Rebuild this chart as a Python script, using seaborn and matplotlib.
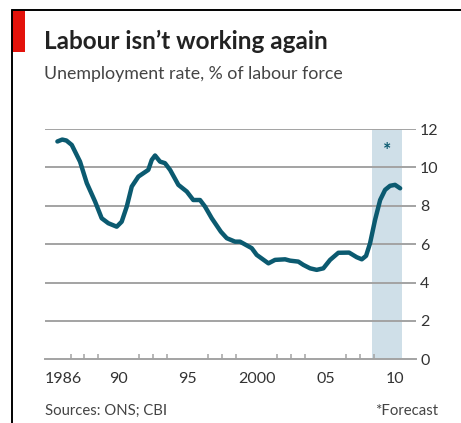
import matplotlib
matplotlib.use("Agg")
import matplotlib.pyplot as plt
import seaborn as sns
import pandas as pd
from matplotlib.lines import Line2D
from matplotlib.patches import Rectangle

# ---- data ----
years = [1986.05, 1986.4, 1986.7, 1987.09, 1987.69, 1988.18, 1988.78, 1989.26, 1989.74,
         1990.35, 1990.71, 1991.08, 1991.44, 1991.92, 1992.64, 1992.89, 1993.13, 1993.49,
         1993.85, 1994.22, 1994.82, 1995.43, 1995.9, 1996.39, 1996.75, 1997.24, 1997.9,
         1998.33, 1998.93, 1999.29, 2000.14, 2000.5, 2001.35, 2001.83, 2002.56, 2002.92,
         2003.52, 2003.88, 2004.37, 2004.85, 2005.33, 2005.82, 2006.42, 2007.2, 2007.75,
         2008.12, 2008.43, 2008.72, 2009.08, 2009.45, 2009.81, 2010.17, 2010.53, 2010.9]
unemployment = [11.35, 11.45, 11.4, 11.17, 10.3, 9.18, 8.22, 7.35, 7.09,
                6.91, 7.17, 7.96, 9.0, 9.52, 9.87, 10.39, 10.62, 10.3,
                10.22, 9.87, 9.09, 8.74, 8.3, 8.3, 7.96, 7.35, 6.65,
                6.31, 6.13, 6.13, 5.79, 5.44, 5.0, 5.18, 5.21, 5.14,
                5.09, 4.92, 4.74, 4.66, 4.74, 5.18, 5.55, 5.56, 5.32,
                5.21, 5.39, 6.05, 7.26, 8.3, 8.83, 9.04, 9.09, 8.91]
forecast_span = (2008.85, 2011.0)
year_labels = ["1986", "90", "95", "2000", "05", "10"]
year_label_pos = [1986.5, 1990.5, 1995.5, 2000.5, 2005.5, 2010.5]
tall_ticks = [1986, 1990, 1991, 1995, 1996, 2000, 2001, 2005, 2006, 2010, 2011]
all_ticks = list(range(1986, 2012))
y_ticks = [0, 2, 4, 6, 8, 10, 12]

df = pd.DataFrame({"year": years, "rate": unemployment})

W, H = 461, 423
sns.set_theme(style="white")
plt.rcParams["font.family"] = ["Lato", "DejaVu Sans"]

fig = plt.figure(figsize=(W / 100, H / 100), dpi=100)
fig.patch.set_facecolor("white")

ax = fig.add_axes([45 / W, 1 - 359.3 / H, (416 - 45) / W, (359.3 - 129) / H])
ax.set_facecolor("white")

teal = "#0b5a70"
grid_c = "#a3a3a3"

ax.axvspan(*forecast_span, color="#cfdfe8", zorder=0, lw=0)
for yv in y_ticks[1:]:
    ax.axhline(yv, color=grid_c, lw=1.4, zorder=1)

sns.lineplot(data=df, x="year", y="rate", ax=ax, color=teal, lw=3.2, zorder=3,
             solid_capstyle="round", solid_joinstyle="round")

ax.text(sum(forecast_span) / 2, 10.9, "*", color=teal, ha="center", va="center",
        fontsize=14, fontweight="bold")

ax.set_xlim(1985.15, 2012.05)
ax.set_ylim(0, 12)
ax.set_xlabel("")
ax.set_ylabel("")

for s in ["top", "left", "right"]:
    ax.spines[s].set_visible(False)
ax.spines["bottom"].set_color(grid_c)
ax.spines["bottom"].set_linewidth(1.4)

# y tick labels on right
ax.yaxis.tick_right()
ax.set_yticks(y_ticks)
ax.set_yticklabels([str(v) for v in y_ticks])
ax.tick_params(axis="y", length=0, pad=3, labelsize=11.5, labelcolor="#333333")

# x ticks: tall and short boundary ticks, pointing up
ax.set_xticks(tall_ticks)
ax.set_xticks([t for t in all_ticks if t not in tall_ticks], minor=True)
ax.tick_params(axis="x", which="major", direction="in", length=7, width=1.1,
               color=grid_c, labelbottom=False)
ax.tick_params(axis="x", which="minor", direction="in", length=3.5, width=1.1,
               color=grid_c, bottom=True)

sec = ax.secondary_xaxis("bottom")
sec.set_xticks(year_label_pos)
sec.set_xticklabels(year_labels)
sec.tick_params(length=0, pad=9, labelsize=11.5, labelcolor="#333333")
sec.spines["bottom"].set_visible(False)

# frame lines and red tag
fig.add_artist(Line2D([12 / W, 1], [1 - 10 / H, 1 - 10 / H], color="black", lw=1.4))
fig.add_artist(Line2D([12 / W, 12 / W], [0, 1 - 10 / H], color="black", lw=1.4))
fig.add_artist(Rectangle((12 / W, 1 - 52 / H), 13 / W, 42 / H, color="#e3120b", lw=0))

fig.text(44 / W, 1 - 49 / H, "Labour isn\u2019t working again", fontsize=17.5,
         fontweight="bold", color="#222222", va="baseline", ha="left")
fig.text(44 / W, 1 - 79 / H, "Unemployment rate, % of labour force", fontsize=12.8,
         color="#444444", va="baseline", ha="left")
fig.text(45 / W, 1 - 415 / H, "Sources: ONS; CBI", fontsize=10.7, color="#444444",
         va="baseline", ha="left")
fig.text(438 / W, 1 - 415 / H, "*Forecast", fontsize=10.7, color="#444444",
         va="baseline", ha="right")

fig.savefig("out.png", dpi=100, facecolor="white")
